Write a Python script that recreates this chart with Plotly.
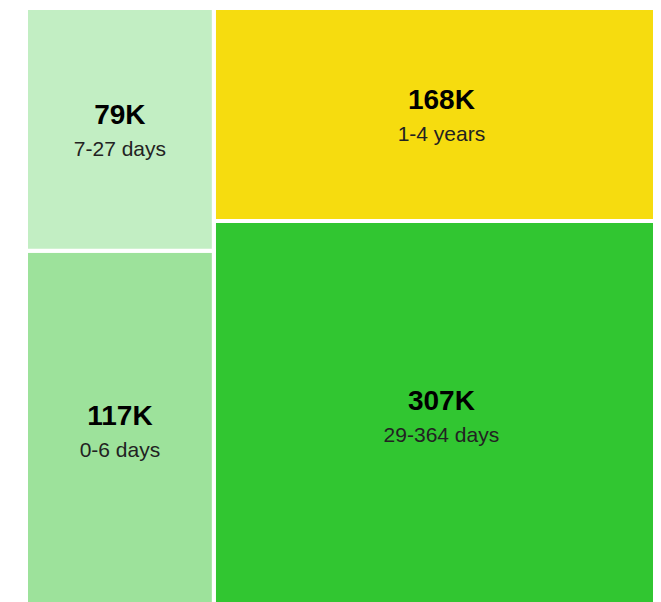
import plotly.graph_objects as go

periods = ["0-6 days", "7-27 days", "29-364 days", "1-4 years"]
counts = [117000, 79000, 307000, 168000]
colors = ["#9de29b", "#c2eec3", "#31c631", "#f6dc0f"]

labels = [f"{v/1000:.0f}K" for v in counts]

fig = go.Figure(go.Treemap(
    ids=periods,
    labels=labels,
    parents=[""] * len(periods),
    values=counts,
    text=periods,
    sort=True,
    texttemplate="<span style='font-size:28px'><b>%{label}</b></span><br><span style='font-size:21px;color:#222222'>%{text}</span>",
    textposition="middle center",
    textfont=dict(family="Arial, Liberation Sans, sans-serif", size=25, color="#000000"),
    marker=dict(colors=colors, line=dict(color="white", width=4), pad=dict(t=0, l=0, r=0, b=0)),
    tiling=dict(packing="squarify", squarifyratio=1.618, flip="x+y", pad=0),
    pathbar=dict(visible=False),
    hoverinfo="skip",
    domain=dict(x=[18 / 661, 1], y=[0, 1]),
))
fig.update_layout(
    width=661, height=602,
    margin=dict(l=0, r=0, t=0, b=0),
    paper_bgcolor="white",
    showlegend=False,
)
fig.write_html("out.html")
